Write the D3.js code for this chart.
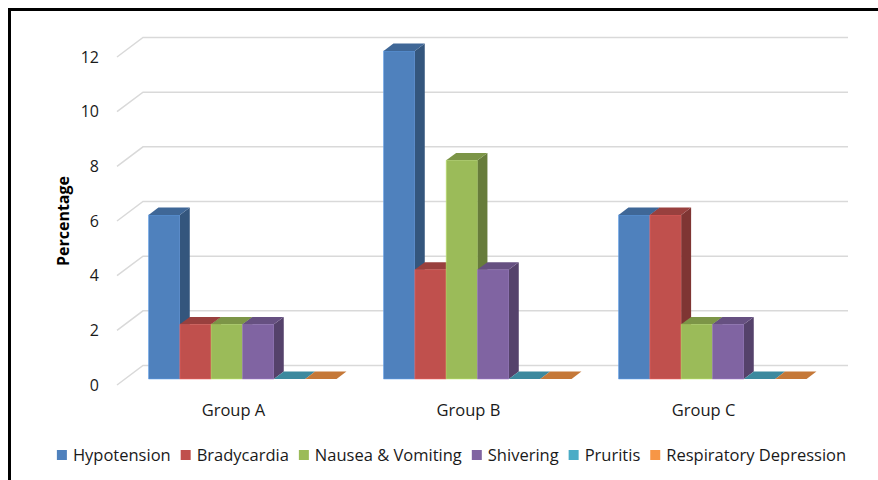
<!DOCTYPE html>
<html lang="en">

<head>
    <meta charset="utf-8">
    <title>Adverse Effects by Group</title>
    <style type="text/css">
        body {
            margin: 0;
            background: #fff;
            font-family: 'Open Sans', 'Noto Sans', sans-serif;
        }
    </style>
    <script type="text/javascript" src="https://cdn.jsdelivr.net/npm/d3@7"></script>
</head>

<body>
    <script type="text/javascript">
        var svgW = 878;
        var svgH = 480;

        /* DATA */
        var groups = ["Group A", "Group B", "Group C"];
        var series = ["Hypotension", "Bradycardia", "Nausea & Vomiting", "Shivering", "Pruritis", "Respiratory Depression"];
        var hypotension = [6, 12, 6];
        var bradycardia = [2, 4, 6];
        var nausea = [2, 8, 2];
        var shivering = [2, 4, 2];
        var pruritis = [0, 0, 0];
        var respDepression = [0, 0, 0];
        var yTicks = [0, 2, 4, 6, 8, 10, 12];
        var colors = ["#4F81BD", "#C0504D", "#9BBB59", "#8064A2", "#4BACC6", "#F79646"];

        var values = [hypotension, bradycardia, nausea, shivering, pruritis, respDepression];

        var svg = d3.select("body").append("svg")
            .attr("width", svgW)
            .attr("height", svgH);

        svg.append("rect")
            .attr("x", 0).attr("y", 0)
            .attr("width", svgW).attr("height", svgH)
            .attr("fill", "#fff");

        // black frame, runs off the right and bottom edges
        svg.append("rect")
            .attr("x", 9.5).attr("y", 9.5)
            .attr("width", svgW + 20).attr("height", svgH + 20)
            .attr("fill", "none")
            .attr("stroke", "#000")
            .attr("stroke-width", 3);

        /* SCALES + 3D PROJECTION */

        var DX = 26, DY = 19.5;   // offset of the back wall
        var zFront = 0.31, zBack = 0.69;

        var y = d3.scaleLinear().domain([0, 12]).range([385, 57]);
        var x = d3.scaleBand().domain(groups).range([117, 822])
            .paddingInner(0.2).paddingOuter(0.1);
        var xs = d3.scaleBand().domain(series).range([0, x.bandwidth()]);

        function proj(px, py, z) {
            return [px + z * DX, py - z * DY];
        }

        function poly(pts) {
            return "M" + pts.map(function (p) { return p[0] + "," + p[1]; }).join("L") + "Z";
        }

        /* GRIDLINES */

        var grid = svg.append("g");
        yTicks.forEach(function (t) {
            var a = proj(117, y(t), 0);
            var b = proj(117, y(t), 1);
            var c = proj(822, y(t), 1);
            grid.append("path")
                .attr("d", "M" + a + "L" + b + "L" + c)
                .attr("fill", "none")
                .attr("stroke", "#d9d9d9")
                .attr("stroke-width", 1.5);
        });

        /* Y AXIS */

        var yAxis = svg.append("g")
            .attr("transform", "translate(99,0)")
            .call(d3.axisLeft(y).tickValues(yTicks).tickSize(0).tickPadding(0));
        yAxis.select(".domain").remove();
        yAxis.selectAll("text")
            .attr("font-family", "'Open Sans', sans-serif")
            .attr("font-size", 16)
            .attr("fill", "#1a1a1a");

        svg.append("text")
            .text("Percentage")
            .attr("transform", "translate(69,221) rotate(-90)")
            .attr("text-anchor", "middle")
            .attr("font-size", 16)
            .attr("font-weight", "bold")
            .attr("fill", "#000");

        /* BARS */

        var bars = svg.append("g");
        groups.forEach(function (g, gi) {
            series.forEach(function (s, si) {
                var v = values[si][gi];
                var x0 = x(g) + xs(s);
                var x1 = x0 + xs.bandwidth();
                var yb = y(0), yt = y(v);
                var col = d3.color(colors[si]);
                var topCol = col.darker(0.63);
                var sideCol = col.darker(1.15);

                if (v > 0) {
                    // front
                    bars.append("path")
                        .attr("d", poly([proj(x0, yb, zFront), proj(x1, yb, zFront), proj(x1, yt, zFront), proj(x0, yt, zFront)]))
                        .attr("fill", colors[si])
                        .attr("stroke", col.brighter(0.6))
                        .attr("stroke-width", 0.6);
                    // side
                    bars.append("path")
                        .attr("d", poly([proj(x1, yb, zFront), proj(x1, yb, zBack), proj(x1, yt, zBack), proj(x1, yt, zFront)]))
                        .attr("fill", sideCol);
                }
                // top (flat for zero values)
                bars.append("path")
                    .attr("d", poly([proj(x0, yt, zFront), proj(x1, yt, zFront), proj(x1, yt, zBack), proj(x0, yt, zBack)]))
                    .attr("fill", topCol);
            });
        });

        /* CATEGORY LABELS */

        svg.append("g").selectAll("text")
            .data(groups)
            .join("text")
            .text(function (d) { return d; })
            .attr("x", function (d) { return x(d) + x.bandwidth() / 2 - 1; })
            .attr("y", 416)
            .attr("text-anchor", "middle")
            .attr("font-size", 16.5)
            .attr("fill", "#1a1a1a");

        /* LEGEND */

        var legend = svg.append("g");
        var cursor = 0;
        series.forEach(function (s, si) {
            var it = legend.append("g");
            it.append("rect")
                .attr("x", 0).attr("y", -11)
                .attr("width", 10).attr("height", 10)
                .attr("fill", colors[si]);
            var t = it.append("text")
                .text(s)
                .attr("x", 16)
                .attr("y", 0)
                .attr("font-size", 16.5)
                .attr("fill", "#1a1a1a");
            var w = t.node().getComputedTextLength();
            it.attr("transform", "translate(" + cursor + ",461)");
            cursor += 16 + w + 10;
        });
        var total = cursor - 10;
        legend.attr("transform", "translate(" + (451.5 - total / 2) + ",0)");
    </script>
</body>

</html>
